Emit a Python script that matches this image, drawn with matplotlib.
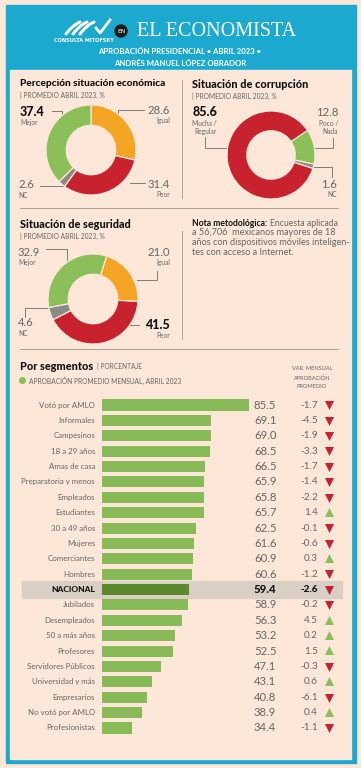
import numpy as np
import matplotlib.pyplot as plt
from matplotlib.patches import Rectangle, Circle

# ---- data ----
eco_labels = ["Igual", "Peor", "NC", "Mejor"]
eco_values = [28.6, 31.4, 2.6, 37.4]
cor_labels = ["Poco / Nada", "NC", "Mucha / Regular"]
cor_values = [12.8, 1.6, 85.6]
seg_labels = ["Igual", "Peor", "NC", "Mejor"]
seg_values = [21.0, 41.5, 4.6, 32.9]

segments = ["Votó por AMLO", "Informales", "Campesinos", "18 a 29 años", "Amas de casa",
            "Preparatoria y menos", "Empleados", "Estudiantes", "30 a 49 años", "Mujeres",
            "Comerciantes", "Hombres", "NACIONAL", "Jubilados", "Desempleados",
            "50 a más años", "Profesores", "Servidores Públicos", "Universidad y más",
            "Empresarios", "No votó por AMLO", "Profesionistas"]
approval = [85.5, 69.1, 69.0, 68.5, 66.5, 65.9, 65.8, 65.7, 62.5, 61.6, 60.9, 60.6,
            59.4, 58.9, 56.3, 53.2, 52.5, 47.1, 43.1, 40.8, 38.9, 34.4]
monthly_var = [-1.7, -4.5, -1.9, -3.3, -1.7, -1.4, -2.2, 1.4, -0.1, -0.6, 0.3, -1.2,
               -2.6, -0.2, 4.5, 0.2, 1.5, -0.3, 0.6, -6.1, 0.4, -1.1]

# ---- style ----
BG = "#fde7d8"
BLUE = "#1ba9cf"
GREEN = "#8bbf5a"
BAR = "#88bb57"
BAR_NAC = "#5b8a2c"
ORANGE = "#f5a424"
RED = "#c8222e"
GRAY = "#8d8b85"
TXT = "#666666"
LINE = "#a9a29a"
FONT = "Lato"

W, H = 361, 768
fig = plt.figure(figsize=(W / 100, H / 100), dpi=100)
fig.patch.set_facecolor(BG)

bg = fig.add_axes([0, 0, 1, 1])
bg.set_xlim(0, W)
bg.set_ylim(H, 0)
bg.axis("off")

# frame + header
bg.add_patch(Rectangle((5.5, 5), 350, 758, color=BLUE, zorder=0))
bg.add_patch(Rectangle((10, 70), 341, 689, color=BG, zorder=1))

# logo (rough)
for dx in (0, 7, 14):
    t = np.linspace(0, 1, 20)
    bg.plot(66 + dx + 14 * t, 34 - 18 * t + 6 * t ** 2, color="white", lw=2.2,
            solid_capstyle="round", zorder=2)
bg.plot([96, 100, 110], [28, 33, 20], color="white", lw=2, zorder=2)
bg.text(84, 40.5, "CONSULTA MITOFSKY", color="white", fontsize=3.6, fontweight="bold",
        ha="center", va="center", family="DejaVu Sans Condensed", zorder=3)
bg.add_patch(Circle((121, 31), 6, color="#1a1a1a", zorder=2))
bg.text(121, 31.3, "EN", color="white", fontsize=4.3, ha="center", va="center", zorder=3)
bg.text(137, 31, "EL ECONOMISTA", color="white", fontsize=14.5, family="Liberation Serif",
        ha="left", va="center", zorder=3)
bg.text(180, 51.5, "APROBACIÓN PRESIDENCIAL • ABRIL 2023 •", color="white", fontsize=5.6,
        fontweight="bold", family=FONT, ha="center", va="center", zorder=3)
bg.text(180, 63.5, "ANDRÉS MANUEL LÓPEZ OBRADOR", color="white", fontsize=5.6,
        fontweight="bold", family=FONT, ha="center", va="center", zorder=3)

# dividers
kw = dict(color=LINE, lw=0.7, zorder=2)
bg.plot([20, 338], [208, 208], **kw)
bg.plot([20, 338], [349, 349], **kw)
bg.plot([182, 182], [80, 198], **kw)
bg.plot([182, 182], [231, 339], **kw)


def panel_title(x, y, title, size=7.8):
    bg.text(x, y, title, fontsize=size, fontweight="black", family=FONT, color="#111111",
            ha="left", va="center", zorder=3)
    bg.text(x, y + 12, "| PROMEDIO ABRIL 2023, %", fontsize=4.8, family=FONT, color=TXT,
            ha="left", va="center", zorder=3)


def donut(cx, cy, r, values, colors, start):
    ax = fig.add_axes([(cx - r) / W, (H - cy - r) / H, 2 * r / W, 2 * r / H])
    ax.pie(values, colors=colors, startangle=start, counterclock=False, radius=1,
           wedgeprops=dict(width=0.45, edgecolor=BG, linewidth=0.9))
    ax.set_xlim(-1, 1)
    ax.set_ylim(-1, 1)
    ax.axis("off")
    return ax


def label(x, y, num, name, ha, bold=False):
    bg.text(x, y, num, fontsize=9 if bold else 8.2, fontweight="black" if bold else "normal",
            family=FONT, color="#111111" if bold else TXT, ha=ha, va="center", zorder=3)
    bg.text(x, y + 10.5, name, fontsize=4.8, family=FONT, color=TXT, ha=ha, va="center",
            zorder=3)


def leader(xs, ys):
    bg.plot(xs, ys, color="#6a6a6a", lw=0.6, zorder=2)


# panel 1
panel_title(20, 83, "Percepción situación económica", 7.3)
donut(91, 150, 45, eco_values, [ORANGE, RED, GRAY, GREEN], 90)
label(20, 112, f"{eco_values[3]:.1f}", eco_labels[3], "left", bold=True)
leader([52, 62, 62], [111, 111, 122])
label(170, 110, f"{eco_values[0]:.1f}", eco_labels[0], "right")
leader([144, 118, 118], [110, 110, 124])
label(18, 185, f"{eco_values[2]:.1f}", eco_labels[2], "left")
leader([40, 63], [186, 186])
label(170, 184, f"{eco_values[1]:.1f}", eco_labels[1], "right")
leader([130, 145], [183, 183])

# panel 2
panel_title(192, 84, "Situación de corrupción")
donut(271, 155, 44, cor_values, [GREEN, GRAY, RED], 34)
bg.text(193, 112, f"{cor_values[2]:.1f}", fontsize=9, fontweight="black", family=FONT,
        color="#111111", ha="left", va="center", zorder=3)
bg.text(217, 123, "Mucha /", fontsize=4.8, family=FONT, color=TXT, ha="right",
        va="center", zorder=3)
bg.text(217, 131.5, "Regular", fontsize=4.8, family=FONT, color=TXT, ha="right",
        va="center", zorder=3)
leader([205, 205, 228], [137, 148, 148])
bg.text(338, 113, f"{cor_values[0]:.1f}", fontsize=8.2, family=FONT,
        color=TXT, ha="right", va="center", zorder=3)
bg.text(338, 123.5, "Poco /", fontsize=4.8, family=FONT, color=TXT, ha="right",
        va="center", zorder=3)
bg.text(338, 132, "Nada", fontsize=4.8, family=FONT, color=TXT, ha="right",
        va="center", zorder=3)
leader([333, 333, 313], [138, 148, 148])
label(337, 184, f"{cor_values[1]:.1f}", cor_labels[1], "right")
leader([312, 332, 332], [167, 167, 177])

# panel 3
panel_title(20, 224, "Situación de seguridad")
donut(93, 299, 45, seg_values, [ORANGE, RED, GRAY, GREEN], 72.4)
label(18, 252, f"{seg_values[3]:.1f}", seg_labels[3], "left")
leader([46, 67, 67], [249, 249, 260])
label(170, 252, f"{seg_values[0]:.1f}", seg_labels[0], "right")
leader([157, 157, 137], [271, 280, 280])
label(18, 323, f"{seg_values[2]:.1f}", seg_labels[2], "left")
leader([25, 25, 52], [317, 308, 308])
label(170, 325, f"{seg_values[1]:.1f}", seg_labels[1], "right", bold=True)
leader([128, 139], [325, 325])

# nota
nota = ["a 56,706  mexicanos mayores de 18",
        "años con dispositivos móviles inteligen-",
        "tes con acceso a Internet."]
renderer = fig.canvas.get_renderer()
head = bg.text(192, 223, "Nota metodológica:", fontsize=6.2, fontweight="bold",
               family=FONT, color="#111111", ha="left", va="center", zorder=3)
ext = head.get_window_extent(renderer)
x_after = ext.x1 + 2.5  # pixels; bg x axis maps 1:1 to pixels
bg.text(x_after, 223, "Encuesta aplicada", fontsize=6.2, family=FONT, color=TXT,
        ha="left", va="center", zorder=3)
for i, line in enumerate(nota):
    bg.text(192, 232.8 + 9.7 * i, line, fontsize=6.6, family=FONT, color=TXT,
            ha="left", va="center", zorder=3)

# bar section header
bg.text(20, 366, "Por segmentos", fontsize=7.8, fontweight="black", family=FONT,
        color="#111111", ha="left", va="center", zorder=3)
bg.text(97, 366, "| PORCENTAJE", fontsize=4.8, family=FONT, color=TXT, ha="left",
        va="center", zorder=3)
bg.add_patch(Circle((22.5, 380.5), 2.8, color=GREEN, zorder=3))
bg.text(29, 380.5, "APROBACIÓN PROMEDIO MENSUAL, ABRIL 2023", fontsize=4.8, family=FONT,
        color=TXT, ha="left", va="center", zorder=3)
for i, line in enumerate(["VAR. MENSUAL", "APROBACIÓN", "PROMEDIO"]):
    bg.text(312, 369 + 9 * i, line, fontsize=4.1, family=FONT, color=TXT, ha="center",
            va="center", zorder=3)

# bars
zero_px, px_per = 53.2, 2.29
row0, row_step = 405, 15.38
n = len(segments)


def px2val(px):
    return (px - zero_px) / px_per


top_px = row0 - 0.6 * row_step
bot_px = row0 + (n - 1 + 0.6) * row_step
x_left, x_right = 102, 345
ax = fig.add_axes([x_left / W, (H - bot_px) / H, (x_right - x_left) / W, (bot_px - top_px) / H])
ax.set_xlim(px2val(x_left), px2val(x_right))
ax.set_ylim(n - 1 + 0.6, -0.6)
ax.axis("off")
ax.patch.set_alpha(0)

y = np.arange(n)
nac = segments.index("NACIONAL")
colors = [BAR_NAC if s == "NACIONAL" else BAR for s in segments]
ax.barh(y, approval, height=0.72, color=colors, zorder=3)
ax.add_patch(Rectangle((px2val(22), nac - 0.56), px2val(342) - px2val(22), 1.12,
                       color="#dacfc5", zorder=1, clip_on=False))

for i, (s, v, d) in enumerate(zip(segments, approval, monthly_var)):
    is_nac = s == "NACIONAL"
    wt = "black" if is_nac else "normal"
    col = "#111111" if is_nac else TXT
    ax.text(px2val(95), i, s, fontsize=5.7 if not is_nac else 6.0, fontweight=wt,
            family=FONT, color=col, ha="right", va="center", clip_on=False)
    ax.text(px2val(254), i, f"{v:.1f}", fontsize=8.2, fontweight=wt, family=FONT,
            color=col, ha="left", va="center", clip_on=False)
    ax.text(px2val(318), i, f"{d:.1f}", fontsize=7.2, fontweight=wt, family=FONT,
            color=col, ha="right", va="center", clip_on=False)
    ax.scatter(px2val(329), i + (0.02 if d < 0 else -0.05), marker="v" if d < 0 else "^",
               s=42, color=RED if d < 0 else GREEN, linewidths=0, clip_on=False, zorder=4)

fig.savefig("out.png", dpi=100, facecolor=BG)
